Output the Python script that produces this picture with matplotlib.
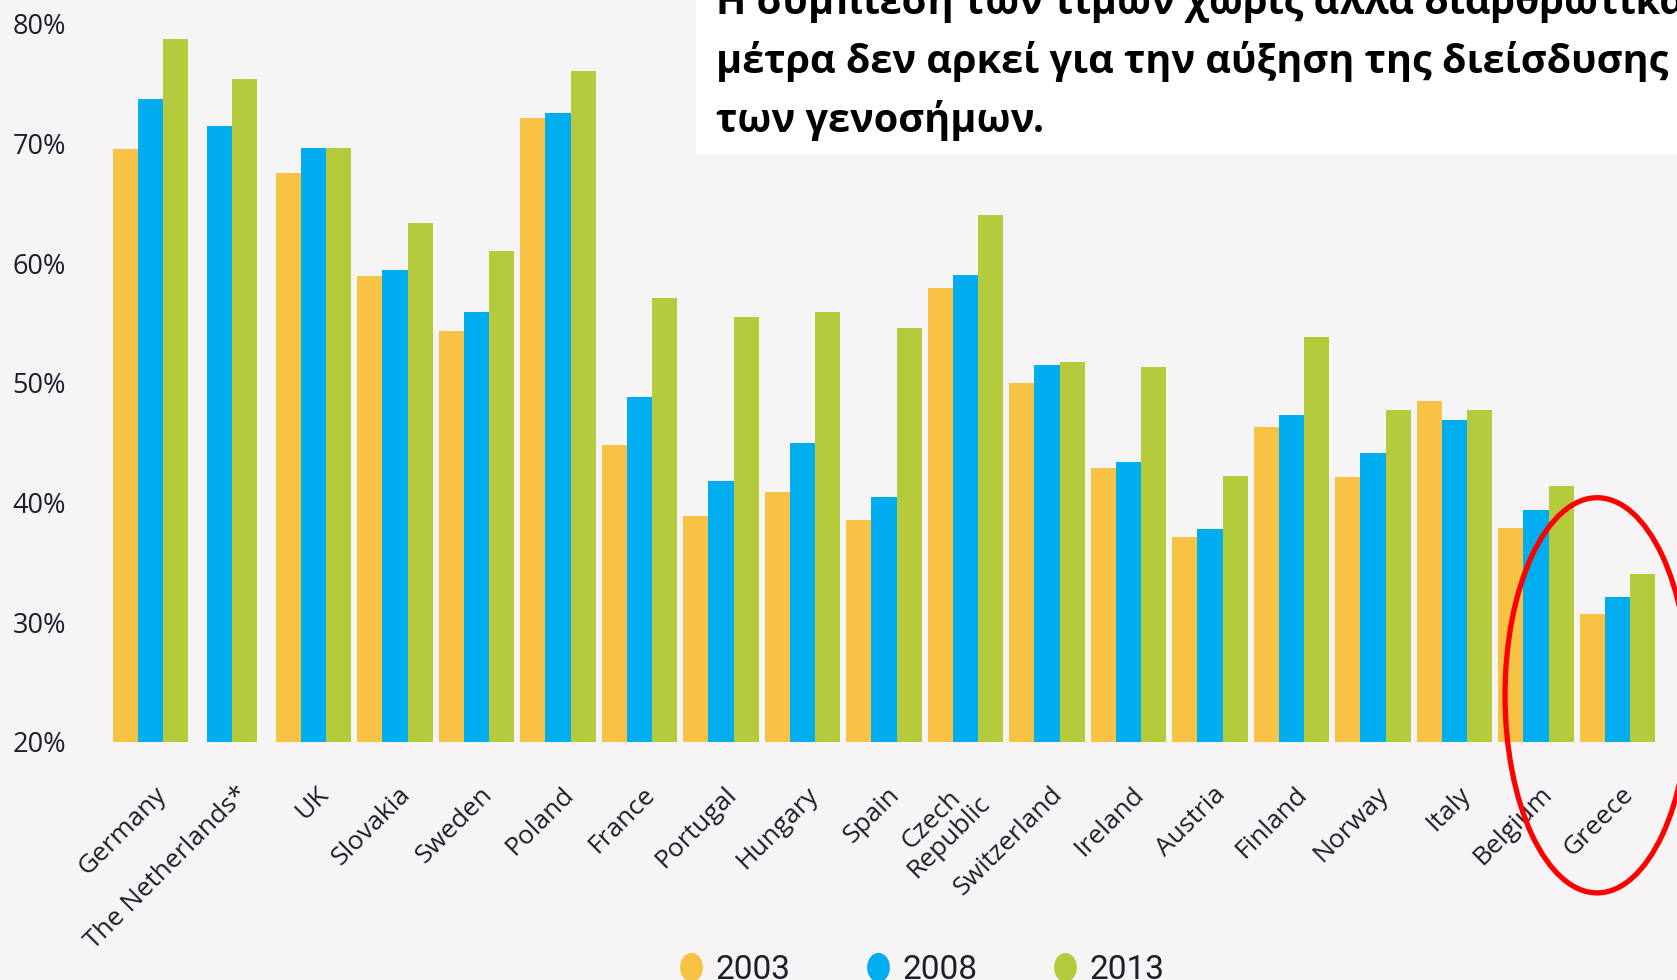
import matplotlib
matplotlib.use("Agg")
import matplotlib.pyplot as plt
import matplotlib.transforms as mtransforms
from matplotlib.patches import Ellipse, Rectangle
from matplotlib.lines import Line2D
from matplotlib.path import Path

countries = ["Germany", "The Netherlands*", "UK", "Slovakia", "Sweden", "Poland",
             "France", "Portugal", "Hungary", "Spain", "Czech\nRepublic",
             "Switzerland", "Ireland", "Austria", "Finland", "Norway", "Italy",
             "Belgium", "Greece"]
v2003 = [69.5, None, 67.5, 58.9, 54.3, 72.1, 44.8, 38.9, 40.9, 38.5, 57.9,
         50.0, 42.9, 37.1, 46.3, 42.1, 48.5, 37.9, 30.7]
v2008 = [73.7, 71.4, 69.6, 59.4, 55.9, 72.5, 48.8, 41.8, 45.0, 40.5, 59.0,
         51.5, 43.4, 37.8, 47.3, 44.1, 46.9, 39.4, 32.1]
v2013 = [78.7, 75.4, 69.6, 63.3, 61.0, 76.0, 57.1, 55.5, 55.9, 54.6, 64.0,
         51.7, 51.3, 42.2, 53.8, 47.7, 47.7, 41.4, 34.0]
years = ["2003", "2008", "2013"]
colors = ["#f8c245", "#00aeef", "#b5cb3b"]
yticks = [20, 30, 40, 50, 60, 70, 80]

title_lines = ["Η συμπίεση των τιμών χωρίς άλλα διαρθρωτικά",
               "μέτρα δεν αρκεί για την αύξηση της διείσδυσης",
               "των γενοσήμων."]

bg = "#f6f4f5"
txt = "#1e1e2a"
W, H = 1677, 980
fig = plt.figure(figsize=(W / 100, H / 100), dpi=100, facecolor=bg)
ax = fig.add_axes([70 / W, 1 - 742 / H, 1 - 70 / W, (742 - 23.5) / H])
ax.set_facecolor("none")

w = 0.307
series = [v2003, v2008, v2013]
for i in range(len(countries)):
    present = [k for k in range(3) if series[k][i] is not None]
    n = len(present)
    for j, k in enumerate(present):
        ax.bar(i + (j - (n - 1) / 2) * w, series[k][i], width=w,
               color=colors[k], linewidth=0)

ax.set_xlim(-(150.5 - 70) / 81.5, (W - 150.5) / 81.5)
ax.set_ylim(20, 80)
for s in ax.spines.values():
    s.set_visible(False)

ax.set_yticks(yticks)
ax.set_yticklabels([f"{t}%" for t in yticks], fontsize=19.5, color=txt,
                   family=["Open Sans", "DejaVu Sans"])
ax.set_xticks(range(len(countries)))
ax.set_xticklabels(countries, rotation=45, ha="right", va="center",
                   rotation_mode="anchor", fontsize=19, color=txt,
                   family=["Open Sans", "DejaVu Sans"], multialignment="center",
                   linespacing=0.95)
ax.tick_params(axis="y", length=0, pad=3)
ax.tick_params(axis="x", length=0, pad=35)
off = mtransforms.ScaledTranslation(12 / 100, 0, fig.dpi_scale_trans)
for lab in ax.get_xticklabels():
    lab.set_transform(lab.get_transform() + off)

# red highlight around Greece
ax.add_patch(Ellipse((17.75, 23.9), 2.26, 33.0, fill=False, edgecolor="#ff0000",
                     linewidth=3.8, clip_on=False, zorder=5))

# title box
fig.add_artist(Rectangle((696 / W, 1 - 154 / H), 1, 154 / H, transform=fig.transFigure,
                         facecolor="white", edgecolor="none", zorder=3))
for line, yb in zip(title_lines, [14, 73, 132]):
    fig.text(716 / W, 1 - yb / H, line, fontsize=28.5, fontweight="bold",
             family=["Open Sans", "DejaVu Sans"], va="baseline", ha="left",
             color="black", zorder=4)

# legend
circ = Path.unit_circle().transformed(mtransforms.Affine2D().scale(0.78, 1.0))
handles = [Line2D([], [], linestyle="none", marker=circ, markersize=21,
                  markerfacecolor=c, markeredgewidth=0) for c in colors]
fig.legend(handles, years, loc="center", bbox_to_anchor=(921 / W, 1 - 970 / H),
           ncol=3, frameon=False, handlelength=0.8, handletextpad=0.32,
           columnspacing=2.24, labelcolor=txt,
           prop={"family": ["Roboto", "DejaVu Sans"], "size": 24})

fig.savefig("out.png", dpi=100, facecolor=bg)
